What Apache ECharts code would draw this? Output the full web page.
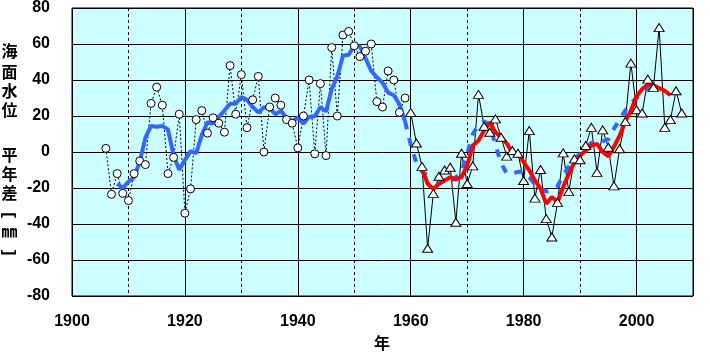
<!DOCTYPE html>
<html>
<head>
<meta charset="utf-8">
<script src="https://cdn.jsdelivr.net/npm/echarts@6/dist/echarts.min.js"></script>
<style>
html,body{margin:0;padding:0;background:#fff;}
#chart{width:710px;height:360px;}
</style>
</head>
<body>
<div id="chart"></div>
<script>
// ---- data ----
const circleStart = 1906;
const circleVals = [2, -23.5, -12, -23, -27, -12, -5, -7, 27, 36, 26, -12, -3, 21, -34, -20.5, 18, 23, 10.5, 19,
  16, 11, 48, 21, 43, 13.5, 29, 42, 0, 25, 30, 26, 18, 16, 2.3, 20, 40, -1, 38, -2,
  58, 20, 65, 67, 59, 53, 56, 60, 28, 25, 45, 40, 22, 30];
const triStart = 1960;
const triVals = [22, 5, -8, -53.5, -23, -13.5, -10, -8.5, -39, -0.7,
  -17.5, -7.7, 32, 14.3, 11, 18.4, 8.2, -2.3, 0.8, -0.7,
  -15.8, 11.9, -25.6, -9.7, -37, -47.2, -28, -0.5, -22, -3.8,
  -4.3, 3.6, 13.7, -11.3, 12.3, 2.6, -18.8, 1.8, 16.9, 49.4,
  23.5, 21.7, 40.5, 35.9, 69.1, 13.7, 18, 34, 21.7];
const blueSolidStart = 1908;
const blueSolidVals = [-17.6, -20, -16.5, -14, -5.5, 8, 14.5, 14, 14.5, 12.5,
  -2, -9.8, -4.5, 0.5, -0.6, 9.5, 16.5, 15.9, 19.5, 23,
  26.8, 27, 30.5, 29, 25, 22, 24.8, 24.5, 21, 22.8,
  19, 17, 19, 15.8, 19.5, 19.8, 25, 22.5, 35, 42,
  53.5, 54, 59, 58.5, 52, 45, 41.5, 38.5, 33, 31.5,
  26.5, 17];
const blueDashStart = 1959;
const blueDashVals = [17, 4, -6, -11, -13, -14, -15, -16, -16, -14,
  -11, -1, 10, 15, 17, 15, 4, -6, -12, -12,
  -11, -11, -14, -18, -20, -22, -21, -19, -13, -8,
  -4, -1, 2, 5, 6, 6, 7, 13, 18, 23,
  27, 30, 33, 35, 36, 36];
const redStart = 1962;
const redVals = [-9.3, -17.6, -20.5, -17.6, -15.8, -14, -15.2, -14, -7.5, 3.6,
  6.4, 11.9, 16.5, 11, 8.2, 4.8, -0.6, -1, -5.6, -10.2,
  -15.8, -20.4, -28.7, -25, -27.8, -19.5, -12.1, -5.6, -1.9, 0.8,
  3.6, 4.5, 0, -2.5, 3, 9, 17, 23, 31, 35,
  37.5, 37, 35.5, 34, 31.5];
const xTickLabels = ['1900', '1920', '1940', '1960', '1980', '2000'];
const yTickLabels = ['-80', '-60', '-40', '-20', '0', '20', '40', '60', '80'];
const yTitleChars = ['海', '面', '水', '位', '', '平', '年', '差'];
const xTitle = '年';

function pair(start, vals) { return vals.map((v, i) => [start + i, v]); }

const circleData = pair(circleStart, circleVals);
const triData = pair(triStart, triVals);
const blueSolid = pair(blueSolidStart, blueSolidVals);
const blueDash = pair(blueDashStart, blueDashVals);
const redData = pair(redStart, redVals);

const FONT = 'Liberation Sans';
const CJK = 'Noto Sans CJK JP';

// y-title graphics
const graphics = [];
const yCenters = [50.5, 71.5, 90.5, 110, 0, 154.5, 173.5, 192.5];
yTitleChars.forEach((c, i) => {
  if (!c) return;
  graphics.push({type: 'text', x: 9.5, y: yCenters[i], style: {text: c, font: 'bold 16px "' + CJK + '"', fill: '#000', align: 'center', verticalAlign: 'middle'}});
});
graphics.push({type: 'text', x: 9, y: 215, rotation: -Math.PI / 2, style: {text: '[', font: 'bold 17px "' + FONT + '"', fill: '#000', align: 'center', verticalAlign: 'middle'}});
graphics.push({type: 'text', x: 9.5, y: 231, style: {text: '㎜', font: 'bold 16px "' + CJK + '"', fill: '#000', align: 'center', verticalAlign: 'middle'}});
graphics.push({type: 'text', x: 9, y: 252.5, rotation: -Math.PI / 2, style: {text: ']', font: 'bold 17px "' + FONT + '"', fill: '#000', align: 'center', verticalAlign: 'middle'}});
graphics.push({type: 'text', x: 382, y: 343, style: {text: xTitle, font: 'bold 16px "' + CJK + '"', fill: '#000', align: 'center', verticalAlign: 'middle'}});

const chart = echarts.init(document.getElementById('chart'), null, {renderer: 'canvas'});
chart.setOption({
  animation: false,
  backgroundColor: '#fff',
  grid: {left: 72, right: 17, top: 7, bottom: 64, show: true, backgroundColor: '#CCFFFF', borderColor: '#000', borderWidth: 1},
  xAxis: [
    {type: 'value', min: 1900, max: 2010, interval: 10,
     axisLine: {show: false}, axisTick: {show: false}, axisLabel: {show: false},
     splitLine: {show: true, lineStyle: {color: '#000', width: 1, type: [3, 3]}}},
    {type: 'value', min: 1900, max: 2010, interval: 20, position: 'bottom',
     axisLine: {show: false}, axisTick: {show: false},
     axisLabel: {show: true, margin: 18, color: '#000', fontSize: 16, fontWeight: 'bold', fontFamily: FONT,
       formatter: v => xTickLabels.includes(String(v)) ? String(v) : ''},
     splitLine: {show: true, lineStyle: {color: '#000', width: 1, type: 'solid'}}}
  ],
  yAxis: {type: 'value', min: -80, max: 80, interval: 20,
    axisLine: {show: false}, axisTick: {show: false},
    axisLabel: {margin: 22, color: '#000', fontSize: 16, fontWeight: 'bold', fontFamily: FONT,
      formatter: v => yTickLabels.includes(String(v)) ? String(v) : ''},
    splitLine: {show: true, lineStyle: {color: '#000', width: 1}}},
  graphic: graphics,
  series: [
    {type: 'line', xAxisIndex: 1, data: circleData, showSymbol: false, z: 2,
     lineStyle: {color: '#000', width: 1, type: [2, 2]}},
    {type: 'line', xAxisIndex: 1, data: triData, showSymbol: false, z: 2,
     lineStyle: {color: '#000', width: 1}},
    {type: 'line', xAxisIndex: 1, data: blueSolid, showSymbol: false, z: 3,
     lineStyle: {color: '#3366FF', width: 4}},
    {type: 'line', xAxisIndex: 1, data: blueDash, showSymbol: false, z: 3,
     lineStyle: {color: '#3366FF', width: 4, type: [8, 9]}},
    {type: 'line', xAxisIndex: 1, data: redData, showSymbol: false, z: 3,
     lineStyle: {color: '#FF0000', width: 4}},
    {type: 'scatter', xAxisIndex: 1, data: circleData, symbol: 'circle', symbolSize: 8, z: 4,
     itemStyle: {color: '#fff', borderColor: '#000', borderWidth: 1, opacity: 1}},
    {type: 'scatter', xAxisIndex: 1, data: triData, symbol: 'triangle', symbolSize: [10, 8], z: 4,
     itemStyle: {color: '#fff', borderColor: '#000', borderWidth: 1, opacity: 1}}
  ]
});
</script>
</body>
</html>
